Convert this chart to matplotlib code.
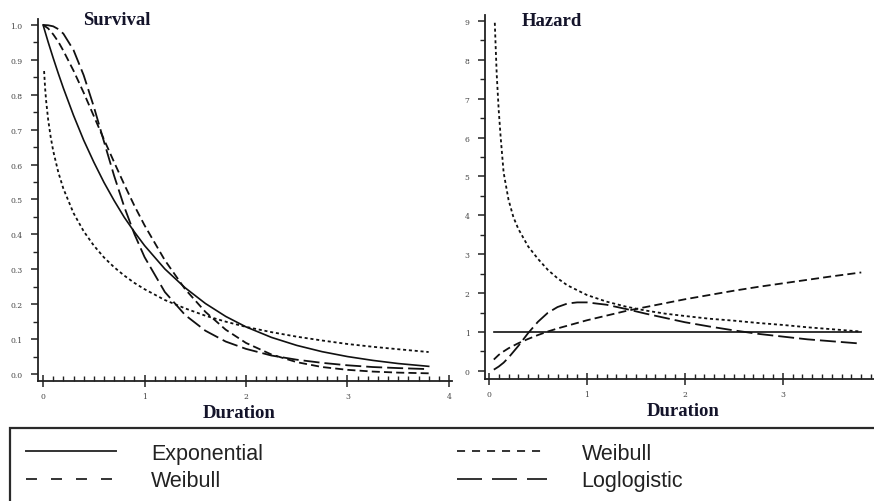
import matplotlib
matplotlib.use("Agg")
import matplotlib.pyplot as plt
from matplotlib.lines import Line2D
from matplotlib.patches import Rectangle
from matplotlib.ticker import MultipleLocator, FormatStrFormatter

plt.rcParams["lines.scale_dashes"] = False

W, H = 874, 502

# survival functions
surv_t = [0.0, 0.05, 0.1, 0.15, 0.2, 0.3, 0.4, 0.5, 0.6, 0.7, 0.8, 0.9, 1.0,
          1.2, 1.4, 1.6, 1.8, 2.0, 2.25, 2.5, 2.75, 3.0, 3.25, 3.5, 3.8]
surv_exp = [1.000, 0.951, 0.905, 0.861, 0.819, 0.741, 0.670, 0.607, 0.549,
            0.497, 0.449, 0.407, 0.368, 0.301, 0.247, 0.202, 0.165, 0.135,
            0.105, 0.082, 0.064, 0.050, 0.039, 0.030, 0.022]
surv_weib = [1.000, 0.990, 0.973, 0.952, 0.926, 0.869, 0.806, 0.739, 0.672,
             0.607, 0.543, 0.482, 0.426, 0.326, 0.243, 0.178, 0.127, 0.089,
             0.056, 0.034, 0.020, 0.012, 0.007, 0.004, 0.002]
surv_loglog = [1.000, 0.999, 0.996, 0.988, 0.975, 0.928, 0.856, 0.766, 0.666,
               0.568, 0.479, 0.401, 0.335, 0.235, 0.169, 0.124, 0.093, 0.072,
               0.053, 0.041, 0.032, 0.025, 0.020, 0.017, 0.014]
surv_weib2_t = [0.01, 0.02, 0.03, 0.05, 0.075, 0.1, 0.15, 0.2, 0.3, 0.4, 0.5,
                0.6, 0.7, 0.8, 0.9, 1.0, 1.2, 1.4, 1.6, 1.8, 2.0, 2.25, 2.5,
                2.75, 3.0, 3.25, 3.5, 3.8]
surv_weib2 = [0.868, 0.819, 0.783, 0.729, 0.679, 0.639, 0.578, 0.531, 0.461,
              0.409, 0.368, 0.334, 0.306, 0.282, 0.261, 0.243, 0.212, 0.188,
              0.167, 0.150, 0.135, 0.120, 0.107, 0.096, 0.086, 0.078, 0.071,
              0.063]

# hazard functions
haz_exp_t = [0.05, 3.8]
haz_exp = [1.0, 1.0]
haz_t = [0.05, 0.1, 0.15, 0.2, 0.3, 0.4, 0.5, 0.6, 0.7, 0.8, 0.9, 1.0, 1.2,
         1.4, 1.6, 1.8, 2.0, 2.25, 2.5, 2.75, 3.0, 3.25, 3.5, 3.8]
haz_weib = [0.29, 0.41, 0.50, 0.58, 0.71, 0.82, 0.92, 1.01, 1.09, 1.16, 1.23,
            1.30, 1.42, 1.54, 1.64, 1.74, 1.84, 1.95, 2.06, 2.16, 2.25, 2.34,
            2.43, 2.53]
haz_loglog = [0.03, 0.11, 0.21, 0.34, 0.64, 0.97, 1.26, 1.49, 1.64, 1.73,
              1.76, 1.76, 1.70, 1.59, 1.47, 1.36, 1.25, 1.14, 1.04, 0.95,
              0.88, 0.81, 0.76, 0.70]
haz_weib2_t = [0.06, 0.07, 0.08, 0.1, 0.12, 0.15, 0.2, 0.25, 0.3, 0.4, 0.5,
               0.6, 0.7, 0.8, 1.0, 1.2, 1.4, 1.6, 1.8, 2.0, 2.25, 2.5, 2.75,
               3.0, 3.25, 3.5, 3.8]
haz_weib2 = [8.95, 8.25, 7.6, 6.7, 6.0, 5.1, 4.4, 3.95, 3.65, 3.2, 2.88, 2.6,
             2.38, 2.2, 1.95, 1.78, 1.65, 1.55, 1.47, 1.41, 1.34, 1.29, 1.23,
             1.18, 1.12, 1.07, 1.01]

labels = ["Exponential", "Weibull", "Weibull", "Loglogistic"]

INK = "#111111"
SOLID = dict(color=INK, lw=1.2, ls="-")
DASHED = dict(color=INK, lw=1.3, ls=(0, (5.8, 3.0)))
DOTTED = dict(color=INK, lw=1.3, ls=(0, (2.2, 2.0)))
LONG = dict(color=INK, lw=1.3, ls=(0, (11.5, 3.6)))


def px_rect(x0, y0, x1, y1):
    return [x0 / W, 1 - y1 / H, (x1 - x0) / W, (y1 - y0) / H]


def style_axes(ax, xlim, ylim, ymajor, yminor, yfmt):
    ax.set_xlim(*xlim)
    ax.set_ylim(*ylim)
    for side in ("top", "right"):
        ax.spines[side].set_visible(False)
    for side in ("left", "bottom"):
        ax.spines[side].set_linewidth(1.3)
        ax.spines[side].set_color("#222222")
    ax.xaxis.set_major_locator(MultipleLocator(1))
    ax.xaxis.set_minor_locator(MultipleLocator(0.1))
    ax.yaxis.set_major_locator(MultipleLocator(ymajor))
    ax.yaxis.set_minor_locator(MultipleLocator(yminor))
    ax.xaxis.set_major_formatter(FormatStrFormatter("%d"))
    ax.yaxis.set_major_formatter(FormatStrFormatter(yfmt))
    ax.tick_params(axis="x", which="major", direction="inout", length=8,
                   width=1.1, pad=4, colors="#222222", labelcolor="#444444")
    ax.tick_params(axis="x", which="minor", direction="in", length=3.5,
                   width=1.0, colors="#222222")
    ax.tick_params(axis="y", which="major", direction="out", length=5,
                   width=1.1, pad=6, colors="#222222", labelcolor="#444444")
    ax.tick_params(axis="y", which="minor", direction="out", length=3.5,
                   width=1.0, colors="#222222")
    for lab in ax.get_xticklabels() + ax.get_yticklabels():
        lab.set_fontfamily("DejaVu Serif")
        lab.set_fontsize(5.5)


fig = plt.figure(figsize=(W / 100, H / 100), dpi=100)

# survival panel
ax1 = fig.add_axes(px_rect(38, 20, 452, 382))
ax1.plot(surv_t, surv_exp, **SOLID)
ax1.plot(surv_t, surv_weib, **DASHED)
ax1.plot(surv_weib2_t, surv_weib2, **DOTTED)
ax1.plot(surv_t, surv_loglog, **LONG)
style_axes(ax1, (-0.05, 4.03), (-0.02, 1.017), 0.1, 0.05, "%.1f")

# hazard panel
ax2 = fig.add_axes(px_rect(485, 16, 874, 380))
ax2.plot(haz_exp_t, haz_exp, **SOLID)
ax2.plot(haz_t, haz_weib, **DASHED)
ax2.plot(haz_weib2_t, haz_weib2, **DOTTED)
ax2.plot(haz_t, haz_loglog, **LONG)
style_axes(ax2, (-0.04, 3.93), (-0.21, 9.15), 1, 0.5, "%d")

title_font = dict(family="Liberation Serif", weight="bold", size=13.5,
                  color="#14142a", va="baseline")
fig.text(83 / W, 1 - 25 / H, "Survival", ha="left", **title_font)
fig.text(522 / W, 1 - 26 / H, "Hazard", ha="left", **title_font)
fig.text(239 / W, 1 - 418 / H, "Duration", ha="center", **title_font)
fig.text(683 / W, 1 - 416 / H, "Duration", ha="center", **title_font)

# legend box running off the bottom and right edges
fig.patches.append(Rectangle((10 / W, 1 - 530 / H), 900 / W, 101 / H,
                             transform=fig.transFigure, fill=False,
                             ec="#2a2a2a", lw=1.6))

handles = [
    Line2D([], [], color="#333333", lw=1.4, ls="-"),
    Line2D([], [], color="#333333", lw=1.4, ls=(0, (7.9, 10.1))),
    Line2D([], [], color="#333333", lw=1.4, ls=(0, (5.8, 5.0))),
    Line2D([], [], color="#333333", lw=1.4, ls=(0, (18.0, 7.2))),
]
fig.legend(handles, labels, ncol=2, loc="upper left",
           bbox_to_anchor=(26 / W, 1 - 444 / H), frameon=False,
           borderpad=0, borderaxespad=0, handlelength=4.2,
           handletextpad=1.6, columnspacing=9.0, labelspacing=0.3,
           prop={"family": "Liberation Sans", "size": 15.5},
           labelcolor="#222222")

fig.savefig("out.png", dpi=100)
